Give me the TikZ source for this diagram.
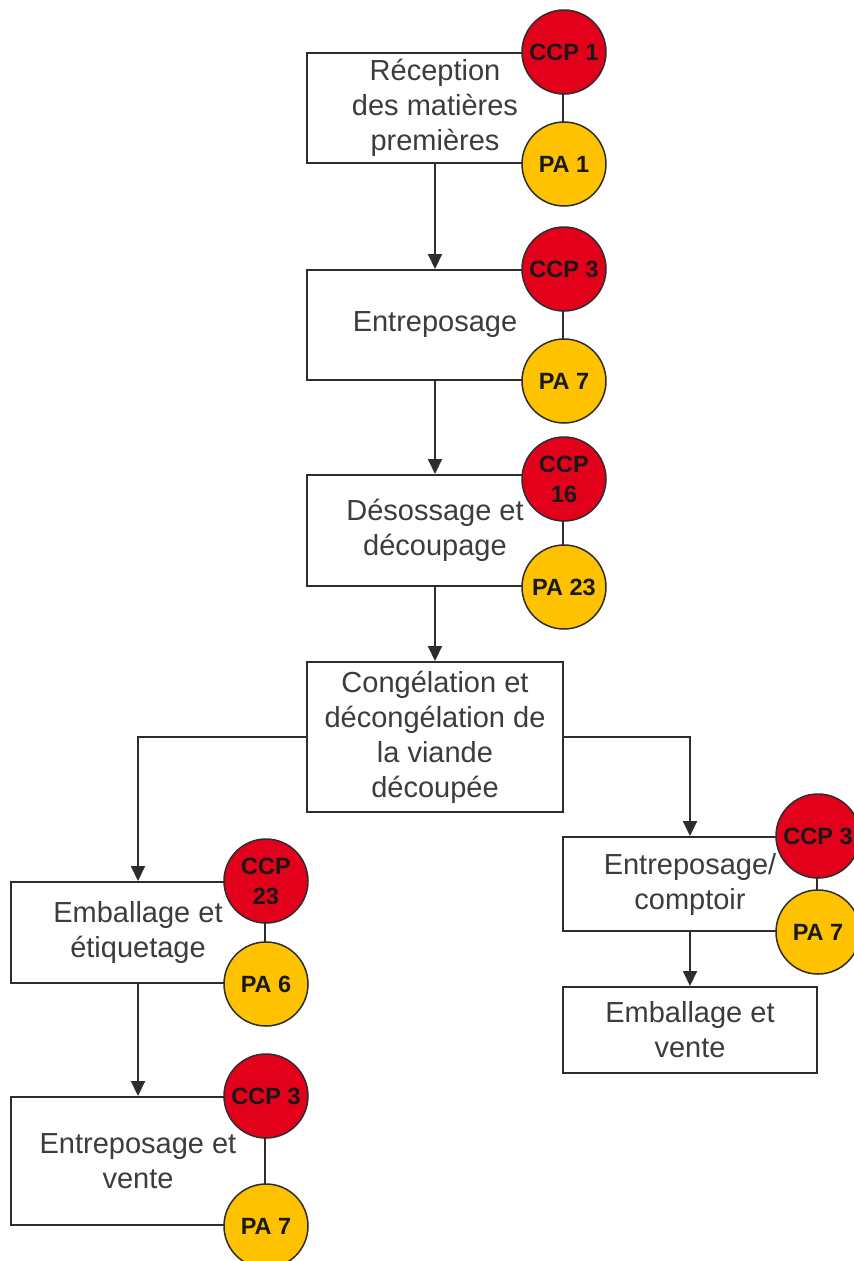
\documentclass[tikz,border=0pt]{standalone}
\usepackage{fontspec}
\setmainfont{Liberation Sans}
\usetikzlibrary{arrows.meta}
\definecolor{ccpred}{RGB}{226,0,26}
\definecolor{pagold}{RGB}{255,194,0}
\definecolor{boxtext}{RGB}{60,60,60}
\definecolor{edge}{RGB}{45,45,45}
\begin{document}
\begin{tikzpicture}[x=1pt,y=-1pt,
  stepbox/.style={draw=edge, line width=2pt, fill=white, inner sep=0pt,
    text=boxtext, align=center, font=\fontsize{29}{35}\selectfont},
  ccp/.style={circle, draw=edge, line width=1.5pt, fill=ccpred,
    minimum size=84pt, inner sep=0pt, align=center,
    font=\fontsize{23.5}{30}\selectfont\bfseries, text=black!90},
  pa/.style={ccp, fill=pagold},
  flow/.style={draw=edge, line width=2pt, -{Triangle[width=14pt,length=15pt]}}]
\useasboundingbox (0,0) rectangle (854,1261);

% process steps
\node[stepbox, minimum width=256pt, minimum height=110pt] (b1) at (435,108)
  {Réception\\des matières\\premières};
\node[stepbox, minimum width=256pt, minimum height=110pt] (b2) at (435,325)
  {Entreposage};
\node[stepbox, minimum width=256pt, minimum height=111pt] (b3) at (435,530.5)
  {Désossage et\\découpage};
\node[stepbox, minimum width=256pt, minimum height=150pt] (b4) at (435,737)
  {Congélation et\\décongélation de\\la viande\\découpée};
\node[stepbox, minimum width=254pt, minimum height=101pt] (b5) at (138,932.5)
  {Emballage et\\étiquetage};
\node[stepbox, minimum width=254pt, minimum height=128pt] (b7) at (138,1161)
  {Entreposage et\\vente};
\node[stepbox, minimum width=254pt, minimum height=94pt] (b6) at (690,884)
  {Entreposage/\\comptoir};
\node[stepbox, minimum width=254pt, minimum height=86pt] (b8) at (690,1030)
  {Emballage et\\vente};

% flow between steps
\draw[flow] (b1.south) -- (b2.north);
\draw[flow] (b2.south) -- (b3.north);
\draw[flow] (b3.south) -- (b4.north);
\draw[flow] (b4.west) -| (b5.north);
\draw[flow] (b4.east) -| (b6.north);
\draw[flow] (b5.south) -- (b7.north);
\draw[flow] (b6.south) -- (b8.north);

% critical control points and prerequisite programs
\node[ccp] (c1) at (b1.north east) {CCP 1};
\node[pa]  (p1) at (b1.south east) {PA 1};
\node[ccp] (c2) at (b2.north east) {CCP 3};
\node[pa]  (p2) at (b2.south east) {PA 7};
\node[ccp] (c3) at ([yshift=-5pt]b3.north east) {CCP\\16};
\node[pa]  (p3) at (b3.south east) {PA 23};
\node[ccp] (c5) at (b5.north east) {CCP\\23};
\node[pa]  (p5) at (b5.south east) {PA 6};
\node[ccp] (c7) at (b7.north east) {CCP 3};
\node[pa]  (p7) at (b7.south east) {PA 7};
\node[ccp] (c6) at (b6.north east) {CCP 3};
\node[pa]  (p6) at (b6.south east) {PA 7};
\end{tikzpicture}
\end{document}
